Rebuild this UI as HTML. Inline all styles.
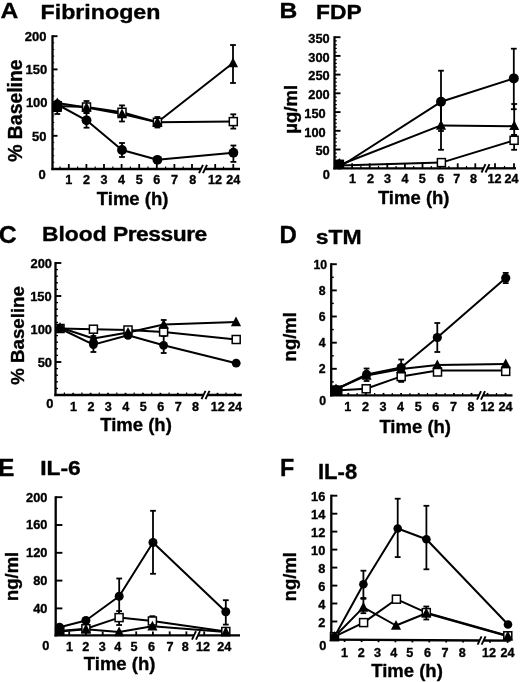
<!DOCTYPE html>
<html lang="en"><head><meta charset="utf-8"><title>Figure</title>
<style>
html,body{margin:0;padding:0;background:#fff;}
body{width:520px;height:682px;overflow:hidden;font-family:"Liberation Sans", Arial, Helvetica, sans-serif;}
svg{display:block;filter:blur(0.35px);}
svg text{stroke:#000;stroke-width:.35px;stroke-linejoin:round;}
</style></head><body>
<svg width="520" height="682" viewBox="0 0 520 682" font-family='"Liberation Sans", Arial, Helvetica, sans-serif' font-weight="bold" fill="#000">
<rect width="520" height="682" fill="#fff"/>
<g id="panel-A">
<text transform="translate(0.5 17.5) scale(1.1 1)" font-size="22.4" text-anchor="start">A</text>
<text transform="translate(40.5 18.8) scale(1.15 1)" font-size="20.2" text-anchor="start">Fibrinogen</text>
<line x1="52.5" y1="35.2" x2="52.5" y2="170.1" stroke="#000" stroke-width="2.3" stroke-linecap="butt"/>
<line x1="51.4" y1="169.0" x2="201.0" y2="169.0" stroke="#000" stroke-width="2.3" stroke-linecap="butt"/>
<line x1="205.0" y1="169.0" x2="240.0" y2="169.0" stroke="#000" stroke-width="2.3" stroke-linecap="butt"/>
<line x1="199.0" y1="173.2" x2="203.0" y2="164.8" stroke="#000" stroke-width="1.9" stroke-linecap="butt"/>
<line x1="203.0" y1="173.2" x2="207.0" y2="164.8" stroke="#000" stroke-width="1.9" stroke-linecap="butt"/>
<text x="42.0" y="178.5" font-size="13" text-anchor="middle">0</text>
<line x1="52.5" y1="135.8" x2="57.5" y2="135.8" stroke="#000" stroke-width="1.9" stroke-linecap="butt"/>
<text x="46.5" y="140.6" font-size="13" text-anchor="end">50</text>
<line x1="52.5" y1="102.6" x2="57.5" y2="102.6" stroke="#000" stroke-width="1.9" stroke-linecap="butt"/>
<text x="47.6" y="107.4" font-size="13" text-anchor="end">100</text>
<line x1="52.5" y1="69.4" x2="57.5" y2="69.4" stroke="#000" stroke-width="1.9" stroke-linecap="butt"/>
<text x="47.2" y="74.2" font-size="13" text-anchor="end">150</text>
<line x1="52.5" y1="36.2" x2="57.5" y2="36.2" stroke="#000" stroke-width="1.9" stroke-linecap="butt"/>
<text x="46.5" y="41.0" font-size="13" text-anchor="end">200</text>
<line x1="52.5" y1="162.4" x2="54.3" y2="162.4" stroke="#000" stroke-width="0.9" stroke-linecap="butt"/>
<line x1="52.5" y1="155.7" x2="54.3" y2="155.7" stroke="#000" stroke-width="0.9" stroke-linecap="butt"/>
<line x1="52.5" y1="149.1" x2="54.3" y2="149.1" stroke="#000" stroke-width="0.9" stroke-linecap="butt"/>
<line x1="52.5" y1="142.4" x2="54.3" y2="142.4" stroke="#000" stroke-width="0.9" stroke-linecap="butt"/>
<line x1="52.5" y1="129.2" x2="54.3" y2="129.2" stroke="#000" stroke-width="0.9" stroke-linecap="butt"/>
<line x1="52.5" y1="122.5" x2="54.3" y2="122.5" stroke="#000" stroke-width="0.9" stroke-linecap="butt"/>
<line x1="52.5" y1="115.9" x2="54.3" y2="115.9" stroke="#000" stroke-width="0.9" stroke-linecap="butt"/>
<line x1="52.5" y1="109.2" x2="54.3" y2="109.2" stroke="#000" stroke-width="0.9" stroke-linecap="butt"/>
<line x1="52.5" y1="96.0" x2="54.3" y2="96.0" stroke="#000" stroke-width="0.9" stroke-linecap="butt"/>
<line x1="52.5" y1="89.3" x2="54.3" y2="89.3" stroke="#000" stroke-width="0.9" stroke-linecap="butt"/>
<line x1="52.5" y1="82.7" x2="54.3" y2="82.7" stroke="#000" stroke-width="0.9" stroke-linecap="butt"/>
<line x1="52.5" y1="76.0" x2="54.3" y2="76.0" stroke="#000" stroke-width="0.9" stroke-linecap="butt"/>
<line x1="52.5" y1="62.8" x2="54.3" y2="62.8" stroke="#000" stroke-width="0.9" stroke-linecap="butt"/>
<line x1="52.5" y1="56.1" x2="54.3" y2="56.1" stroke="#000" stroke-width="0.9" stroke-linecap="butt"/>
<line x1="52.5" y1="49.5" x2="54.3" y2="49.5" stroke="#000" stroke-width="0.9" stroke-linecap="butt"/>
<line x1="52.5" y1="42.8" x2="54.3" y2="42.8" stroke="#000" stroke-width="0.9" stroke-linecap="butt"/>
<line x1="68.8" y1="169.0" x2="68.8" y2="164.0" stroke="#000" stroke-width="1.8" stroke-linecap="butt"/>
<text x="68.8" y="183.5" font-size="12.6" text-anchor="middle">1</text>
<line x1="86.4" y1="169.0" x2="86.4" y2="164.0" stroke="#000" stroke-width="1.8" stroke-linecap="butt"/>
<text x="86.4" y="183.5" font-size="12.6" text-anchor="middle">2</text>
<line x1="104.0" y1="169.0" x2="104.0" y2="164.0" stroke="#000" stroke-width="1.8" stroke-linecap="butt"/>
<text x="104.0" y="183.5" font-size="12.6" text-anchor="middle">3</text>
<line x1="121.6" y1="169.0" x2="121.6" y2="164.0" stroke="#000" stroke-width="1.8" stroke-linecap="butt"/>
<text x="121.6" y="183.5" font-size="12.6" text-anchor="middle">4</text>
<line x1="139.2" y1="169.0" x2="139.2" y2="164.0" stroke="#000" stroke-width="1.8" stroke-linecap="butt"/>
<text x="139.2" y="183.5" font-size="12.6" text-anchor="middle">5</text>
<line x1="156.8" y1="169.0" x2="156.8" y2="164.0" stroke="#000" stroke-width="1.8" stroke-linecap="butt"/>
<text x="156.8" y="183.5" font-size="12.6" text-anchor="middle">6</text>
<line x1="174.4" y1="169.0" x2="174.4" y2="164.0" stroke="#000" stroke-width="1.8" stroke-linecap="butt"/>
<text x="174.4" y="183.5" font-size="12.6" text-anchor="middle">7</text>
<line x1="192.0" y1="169.0" x2="192.0" y2="164.0" stroke="#000" stroke-width="1.8" stroke-linecap="butt"/>
<text x="192.8" y="183.5" font-size="12.6" text-anchor="middle">8</text>
<line x1="215.2" y1="169.0" x2="215.2" y2="164.0" stroke="#000" stroke-width="1.8" stroke-linecap="butt"/>
<text x="214.9" y="183.5" font-size="12.6" text-anchor="middle">12</text>
<line x1="233.3" y1="169.0" x2="233.3" y2="164.0" stroke="#000" stroke-width="1.8" stroke-linecap="butt"/>
<text x="233.3" y="183.5" font-size="12.6" text-anchor="middle">24</text>
<line x1="60.0" y1="169.0" x2="60.0" y2="166.6" stroke="#000" stroke-width="1.2" stroke-linecap="butt"/>
<line x1="77.6" y1="169.0" x2="77.6" y2="166.6" stroke="#000" stroke-width="1.2" stroke-linecap="butt"/>
<line x1="95.2" y1="169.0" x2="95.2" y2="166.6" stroke="#000" stroke-width="1.2" stroke-linecap="butt"/>
<line x1="112.8" y1="169.0" x2="112.8" y2="166.6" stroke="#000" stroke-width="1.2" stroke-linecap="butt"/>
<line x1="130.4" y1="169.0" x2="130.4" y2="166.6" stroke="#000" stroke-width="1.2" stroke-linecap="butt"/>
<line x1="148.0" y1="169.0" x2="148.0" y2="166.6" stroke="#000" stroke-width="1.2" stroke-linecap="butt"/>
<line x1="165.6" y1="169.0" x2="165.6" y2="166.6" stroke="#000" stroke-width="1.2" stroke-linecap="butt"/>
<line x1="183.2" y1="169.0" x2="183.2" y2="166.6" stroke="#000" stroke-width="1.2" stroke-linecap="butt"/>
<line x1="223.5" y1="169.0" x2="223.5" y2="166.6" stroke="#000" stroke-width="1.2" stroke-linecap="butt"/>
<text x="21.8" y="110.6" font-size="19.4" text-anchor="middle" transform="rotate(-90 21.8 110.6)">% Baseline</text>
<text x="132.6" y="205.0" font-size="18.5" text-anchor="middle">Time (h)</text>
<polyline points="57.3,104.5 86.5,120.3 122.0,150.0 157.4,159.8 233.4,152.7" fill="none" stroke="#000" stroke-width="2" stroke-linejoin="round"/>
<polyline points="57.3,106.0 86.5,107.0 122.0,112.3 157.4,122.3 233.3,121.6" fill="none" stroke="#000" stroke-width="2" stroke-linejoin="round"/>
<polyline points="57.3,103.0 86.5,107.5 122.0,114.0 157.4,122.3 233.0,63.0" fill="none" stroke="#000" stroke-width="2" stroke-linejoin="round"/>
<line x1="86.5" y1="113.0" x2="86.5" y2="127.7" stroke="#000" stroke-width="1.8" stroke-linecap="butt"/>
<line x1="83.6" y1="113.0" x2="89.4" y2="113.0" stroke="#000" stroke-width="1.8" stroke-linecap="butt"/>
<line x1="83.6" y1="127.7" x2="89.4" y2="127.7" stroke="#000" stroke-width="1.8" stroke-linecap="butt"/>
<line x1="122.0" y1="143.0" x2="122.0" y2="157.0" stroke="#000" stroke-width="1.8" stroke-linecap="butt"/>
<line x1="119.1" y1="143.0" x2="124.9" y2="143.0" stroke="#000" stroke-width="1.8" stroke-linecap="butt"/>
<line x1="119.1" y1="157.0" x2="124.9" y2="157.0" stroke="#000" stroke-width="1.8" stroke-linecap="butt"/>
<line x1="233.4" y1="145.5" x2="233.4" y2="161.9" stroke="#000" stroke-width="1.8" stroke-linecap="butt"/>
<line x1="230.5" y1="145.5" x2="236.3" y2="145.5" stroke="#000" stroke-width="1.8" stroke-linecap="butt"/>
<line x1="230.5" y1="161.9" x2="236.3" y2="161.9" stroke="#000" stroke-width="1.8" stroke-linecap="butt"/>
<line x1="57.3" y1="103.0" x2="57.3" y2="114.0" stroke="#000" stroke-width="1.8" stroke-linecap="butt"/>
<line x1="54.4" y1="103.0" x2="60.2" y2="103.0" stroke="#000" stroke-width="1.8" stroke-linecap="butt"/>
<line x1="54.4" y1="114.0" x2="60.2" y2="114.0" stroke="#000" stroke-width="1.8" stroke-linecap="butt"/>
<line x1="86.5" y1="101.0" x2="86.5" y2="113.0" stroke="#000" stroke-width="1.8" stroke-linecap="butt"/>
<line x1="83.6" y1="101.0" x2="89.4" y2="101.0" stroke="#000" stroke-width="1.8" stroke-linecap="butt"/>
<line x1="83.6" y1="113.0" x2="89.4" y2="113.0" stroke="#000" stroke-width="1.8" stroke-linecap="butt"/>
<line x1="122.0" y1="105.4" x2="122.0" y2="121.5" stroke="#000" stroke-width="1.8" stroke-linecap="butt"/>
<line x1="119.1" y1="105.4" x2="124.9" y2="105.4" stroke="#000" stroke-width="1.8" stroke-linecap="butt"/>
<line x1="119.1" y1="121.5" x2="124.9" y2="121.5" stroke="#000" stroke-width="1.8" stroke-linecap="butt"/>
<line x1="233.3" y1="114.3" x2="233.3" y2="128.6" stroke="#000" stroke-width="1.8" stroke-linecap="butt"/>
<line x1="230.4" y1="114.3" x2="236.2" y2="114.3" stroke="#000" stroke-width="1.8" stroke-linecap="butt"/>
<line x1="230.4" y1="128.6" x2="236.2" y2="128.6" stroke="#000" stroke-width="1.8" stroke-linecap="butt"/>
<line x1="233.0" y1="45.0" x2="233.0" y2="83.0" stroke="#000" stroke-width="1.8" stroke-linecap="butt"/>
<line x1="230.1" y1="45.0" x2="235.9" y2="45.0" stroke="#000" stroke-width="1.8" stroke-linecap="butt"/>
<line x1="230.1" y1="83.0" x2="235.9" y2="83.0" stroke="#000" stroke-width="1.8" stroke-linecap="butt"/>
<line x1="157.4" y1="117.0" x2="157.4" y2="127.5" stroke="#000" stroke-width="1.8" stroke-linecap="butt"/>
<line x1="154.5" y1="117.0" x2="160.3" y2="117.0" stroke="#000" stroke-width="1.8" stroke-linecap="butt"/>
<line x1="154.5" y1="127.5" x2="160.3" y2="127.5" stroke="#000" stroke-width="1.8" stroke-linecap="butt"/>
<rect x="53.3" y="102.0" width="8.0" height="8.0" fill="#fff" stroke="#000" stroke-width="1.5"/>
<rect x="82.5" y="103.0" width="8.0" height="8.0" fill="#fff" stroke="#000" stroke-width="1.5"/>
<rect x="118.0" y="108.3" width="8.0" height="8.0" fill="#fff" stroke="#000" stroke-width="1.5"/>
<rect x="153.4" y="118.3" width="8.0" height="8.0" fill="#fff" stroke="#000" stroke-width="1.5"/>
<rect x="229.3" y="117.6" width="8.0" height="8.0" fill="#fff" stroke="#000" stroke-width="1.5"/>
<circle cx="57.3" cy="104.5" r="4.9" fill="#000"/>
<circle cx="86.5" cy="120.3" r="4.9" fill="#000"/>
<circle cx="122.0" cy="150.0" r="4.9" fill="#000"/>
<circle cx="157.4" cy="159.8" r="4.9" fill="#000"/>
<circle cx="233.4" cy="152.7" r="4.9" fill="#000"/>
<polygon points="57.3,97.4 52.2,107.3 62.3,107.3" fill="#000"/>
<polygon points="86.5,101.9 81.5,111.8 91.5,111.8" fill="#000"/>
<polygon points="122.0,108.4 117.0,118.3 127.0,118.3" fill="#000"/>
<polygon points="157.4,116.7 152.3,126.6 162.5,126.6" fill="#000"/>
<polygon points="233.0,57.4 227.9,67.3 238.1,67.3" fill="#000"/>
<rect x="52.6" y="101" width="9.2" height="11" fill="#000"/>
</g>
<g id="panel-B">
<text transform="translate(279.5 17.8) scale(1.1 1)" font-size="22.4" text-anchor="start">B</text>
<text transform="translate(316.0 18.9) scale(1.13 1)" font-size="20.2" text-anchor="start">FDP</text>
<line x1="334.5" y1="36.2" x2="334.5" y2="169.4" stroke="#000" stroke-width="2.3" stroke-linecap="butt"/>
<line x1="333.4" y1="168.3" x2="483.5" y2="168.3" stroke="#000" stroke-width="2.3" stroke-linecap="butt"/>
<line x1="487.5" y1="168.3" x2="516.0" y2="168.3" stroke="#000" stroke-width="2.3" stroke-linecap="butt"/>
<line x1="481.5" y1="172.5" x2="485.5" y2="164.1" stroke="#000" stroke-width="1.9" stroke-linecap="butt"/>
<line x1="485.5" y1="172.5" x2="489.5" y2="164.1" stroke="#000" stroke-width="1.9" stroke-linecap="butt"/>
<text x="326.3" y="179.4" font-size="12.8" text-anchor="middle">0</text>
<line x1="334.5" y1="149.5" x2="340.5" y2="149.5" stroke="#000" stroke-width="1.9" stroke-linecap="butt"/>
<text x="329.7" y="155.3" font-size="12.8" text-anchor="end">50</text>
<line x1="334.5" y1="130.8" x2="340.5" y2="130.8" stroke="#000" stroke-width="1.9" stroke-linecap="butt"/>
<text x="325.7" y="136.6" font-size="12.8" text-anchor="end">100</text>
<line x1="334.5" y1="112.1" x2="340.5" y2="112.1" stroke="#000" stroke-width="1.9" stroke-linecap="butt"/>
<text x="325.7" y="117.9" font-size="12.8" text-anchor="end">150</text>
<line x1="334.5" y1="93.3" x2="340.5" y2="93.3" stroke="#000" stroke-width="1.9" stroke-linecap="butt"/>
<text x="329.7" y="99.1" font-size="12.8" text-anchor="end">200</text>
<line x1="334.5" y1="74.6" x2="340.5" y2="74.6" stroke="#000" stroke-width="1.9" stroke-linecap="butt"/>
<text x="329.7" y="80.4" font-size="12.8" text-anchor="end">250</text>
<line x1="334.5" y1="55.9" x2="340.5" y2="55.9" stroke="#000" stroke-width="1.9" stroke-linecap="butt"/>
<text x="329.7" y="61.7" font-size="12.8" text-anchor="end">300</text>
<line x1="334.5" y1="37.2" x2="340.5" y2="37.2" stroke="#000" stroke-width="1.9" stroke-linecap="butt"/>
<text x="329.7" y="43.0" font-size="12.8" text-anchor="end">350</text>
<line x1="334.5" y1="164.5" x2="336.8" y2="164.5" stroke="#000" stroke-width="1.2" stroke-linecap="butt"/>
<line x1="334.5" y1="160.7" x2="336.8" y2="160.7" stroke="#000" stroke-width="1.2" stroke-linecap="butt"/>
<line x1="334.5" y1="157.0" x2="336.8" y2="157.0" stroke="#000" stroke-width="1.2" stroke-linecap="butt"/>
<line x1="334.5" y1="153.2" x2="336.8" y2="153.2" stroke="#000" stroke-width="1.2" stroke-linecap="butt"/>
<line x1="334.5" y1="145.7" x2="336.8" y2="145.7" stroke="#000" stroke-width="1.2" stroke-linecap="butt"/>
<line x1="334.5" y1="142.0" x2="336.8" y2="142.0" stroke="#000" stroke-width="1.2" stroke-linecap="butt"/>
<line x1="334.5" y1="138.3" x2="336.8" y2="138.3" stroke="#000" stroke-width="1.2" stroke-linecap="butt"/>
<line x1="334.5" y1="134.5" x2="336.8" y2="134.5" stroke="#000" stroke-width="1.2" stroke-linecap="butt"/>
<line x1="334.5" y1="127.0" x2="336.8" y2="127.0" stroke="#000" stroke-width="1.2" stroke-linecap="butt"/>
<line x1="334.5" y1="123.3" x2="336.8" y2="123.3" stroke="#000" stroke-width="1.2" stroke-linecap="butt"/>
<line x1="334.5" y1="119.5" x2="336.8" y2="119.5" stroke="#000" stroke-width="1.2" stroke-linecap="butt"/>
<line x1="334.5" y1="115.8" x2="336.8" y2="115.8" stroke="#000" stroke-width="1.2" stroke-linecap="butt"/>
<line x1="334.5" y1="108.3" x2="336.8" y2="108.3" stroke="#000" stroke-width="1.2" stroke-linecap="butt"/>
<line x1="334.5" y1="104.6" x2="336.8" y2="104.6" stroke="#000" stroke-width="1.2" stroke-linecap="butt"/>
<line x1="334.5" y1="100.8" x2="336.8" y2="100.8" stroke="#000" stroke-width="1.2" stroke-linecap="butt"/>
<line x1="334.5" y1="97.1" x2="336.8" y2="97.1" stroke="#000" stroke-width="1.2" stroke-linecap="butt"/>
<line x1="334.5" y1="89.6" x2="336.8" y2="89.6" stroke="#000" stroke-width="1.2" stroke-linecap="butt"/>
<line x1="334.5" y1="85.9" x2="336.8" y2="85.9" stroke="#000" stroke-width="1.2" stroke-linecap="butt"/>
<line x1="334.5" y1="82.1" x2="336.8" y2="82.1" stroke="#000" stroke-width="1.2" stroke-linecap="butt"/>
<line x1="334.5" y1="78.4" x2="336.8" y2="78.4" stroke="#000" stroke-width="1.2" stroke-linecap="butt"/>
<line x1="334.5" y1="70.9" x2="336.8" y2="70.9" stroke="#000" stroke-width="1.2" stroke-linecap="butt"/>
<line x1="334.5" y1="67.1" x2="336.8" y2="67.1" stroke="#000" stroke-width="1.2" stroke-linecap="butt"/>
<line x1="334.5" y1="63.4" x2="336.8" y2="63.4" stroke="#000" stroke-width="1.2" stroke-linecap="butt"/>
<line x1="334.5" y1="59.7" x2="336.8" y2="59.7" stroke="#000" stroke-width="1.2" stroke-linecap="butt"/>
<line x1="334.5" y1="52.2" x2="336.8" y2="52.2" stroke="#000" stroke-width="1.2" stroke-linecap="butt"/>
<line x1="334.5" y1="48.4" x2="336.8" y2="48.4" stroke="#000" stroke-width="1.2" stroke-linecap="butt"/>
<line x1="334.5" y1="44.7" x2="336.8" y2="44.7" stroke="#000" stroke-width="1.2" stroke-linecap="butt"/>
<line x1="334.5" y1="40.9" x2="336.8" y2="40.9" stroke="#000" stroke-width="1.2" stroke-linecap="butt"/>
<line x1="352.1" y1="168.3" x2="352.1" y2="163.3" stroke="#000" stroke-width="1.8" stroke-linecap="butt"/>
<text x="352.5" y="183.4" font-size="12.6" text-anchor="middle">1</text>
<line x1="369.7" y1="168.3" x2="369.7" y2="163.3" stroke="#000" stroke-width="1.8" stroke-linecap="butt"/>
<text x="370.4" y="183.4" font-size="12.6" text-anchor="middle">2</text>
<line x1="387.3" y1="168.3" x2="387.3" y2="163.3" stroke="#000" stroke-width="1.8" stroke-linecap="butt"/>
<text x="387.5" y="183.4" font-size="12.6" text-anchor="middle">3</text>
<line x1="404.9" y1="168.3" x2="404.9" y2="163.3" stroke="#000" stroke-width="1.8" stroke-linecap="butt"/>
<text x="404.9" y="183.4" font-size="12.6" text-anchor="middle">4</text>
<line x1="422.5" y1="168.3" x2="422.5" y2="163.3" stroke="#000" stroke-width="1.8" stroke-linecap="butt"/>
<text x="422.3" y="183.4" font-size="12.6" text-anchor="middle">5</text>
<line x1="440.1" y1="168.3" x2="440.1" y2="163.3" stroke="#000" stroke-width="1.8" stroke-linecap="butt"/>
<text x="440.7" y="183.4" font-size="12.6" text-anchor="middle">6</text>
<line x1="457.7" y1="168.3" x2="457.7" y2="163.3" stroke="#000" stroke-width="1.8" stroke-linecap="butt"/>
<text x="456.8" y="183.4" font-size="12.6" text-anchor="middle">7</text>
<line x1="475.3" y1="168.3" x2="475.3" y2="163.3" stroke="#000" stroke-width="1.8" stroke-linecap="butt"/>
<text x="473.6" y="183.4" font-size="12.6" text-anchor="middle">8</text>
<line x1="495.0" y1="168.3" x2="495.0" y2="163.3" stroke="#000" stroke-width="1.8" stroke-linecap="butt"/>
<text x="494.6" y="183.4" font-size="12.6" text-anchor="middle">12</text>
<line x1="514.0" y1="168.3" x2="514.0" y2="163.3" stroke="#000" stroke-width="1.8" stroke-linecap="butt"/>
<text x="511.5" y="183.4" font-size="12.6" text-anchor="middle">24</text>
<line x1="343.3" y1="168.3" x2="343.3" y2="165.9" stroke="#000" stroke-width="1.2" stroke-linecap="butt"/>
<line x1="360.9" y1="168.3" x2="360.9" y2="165.9" stroke="#000" stroke-width="1.2" stroke-linecap="butt"/>
<line x1="378.5" y1="168.3" x2="378.5" y2="165.9" stroke="#000" stroke-width="1.2" stroke-linecap="butt"/>
<line x1="396.1" y1="168.3" x2="396.1" y2="165.9" stroke="#000" stroke-width="1.2" stroke-linecap="butt"/>
<line x1="413.7" y1="168.3" x2="413.7" y2="165.9" stroke="#000" stroke-width="1.2" stroke-linecap="butt"/>
<line x1="431.3" y1="168.3" x2="431.3" y2="165.9" stroke="#000" stroke-width="1.2" stroke-linecap="butt"/>
<line x1="448.9" y1="168.3" x2="448.9" y2="165.9" stroke="#000" stroke-width="1.2" stroke-linecap="butt"/>
<line x1="466.5" y1="168.3" x2="466.5" y2="165.9" stroke="#000" stroke-width="1.2" stroke-linecap="butt"/>
<line x1="504.5" y1="168.3" x2="504.5" y2="165.9" stroke="#000" stroke-width="1.2" stroke-linecap="butt"/>
<text x="297.5" y="109.3" font-size="18.6" text-anchor="middle" transform="rotate(-90 297.5 109.3)">µg/ml</text>
<text x="413.7" y="203.7" font-size="18.5" text-anchor="middle">Time (h)</text>
<polyline points="339.5,167.0 441.0,101.8 513.8,78.4" fill="none" stroke="#000" stroke-width="2" stroke-linejoin="round"/>
<polyline points="339.5,165.0 441.0,125.4 514.2,126.2" fill="none" stroke="#000" stroke-width="2" stroke-linejoin="round"/>
<polyline points="339.5,165.6 441.4,162.6 514.1,140.3" fill="none" stroke="#000" stroke-width="2" stroke-linejoin="round"/>
<line x1="441.0" y1="70.7" x2="441.0" y2="131.0" stroke="#000" stroke-width="1.8" stroke-linecap="butt"/>
<line x1="438.1" y1="70.7" x2="443.9" y2="70.7" stroke="#000" stroke-width="1.8" stroke-linecap="butt"/>
<line x1="438.1" y1="131.0" x2="443.9" y2="131.0" stroke="#000" stroke-width="1.8" stroke-linecap="butt"/>
<line x1="513.8" y1="48.7" x2="513.8" y2="109.2" stroke="#000" stroke-width="1.8" stroke-linecap="butt"/>
<line x1="510.9" y1="48.7" x2="516.7" y2="48.7" stroke="#000" stroke-width="1.8" stroke-linecap="butt"/>
<line x1="510.9" y1="109.2" x2="516.7" y2="109.2" stroke="#000" stroke-width="1.8" stroke-linecap="butt"/>
<line x1="441.0" y1="103.0" x2="441.0" y2="149.8" stroke="#000" stroke-width="1.8" stroke-linecap="butt"/>
<line x1="438.1" y1="103.0" x2="443.9" y2="103.0" stroke="#000" stroke-width="1.8" stroke-linecap="butt"/>
<line x1="438.1" y1="149.8" x2="443.9" y2="149.8" stroke="#000" stroke-width="1.8" stroke-linecap="butt"/>
<line x1="514.2" y1="104.0" x2="514.2" y2="135.0" stroke="#000" stroke-width="1.8" stroke-linecap="butt"/>
<line x1="511.3" y1="104.0" x2="517.1" y2="104.0" stroke="#000" stroke-width="1.8" stroke-linecap="butt"/>
<line x1="511.3" y1="135.0" x2="517.1" y2="135.0" stroke="#000" stroke-width="1.8" stroke-linecap="butt"/>
<line x1="514.1" y1="135.0" x2="514.1" y2="149.8" stroke="#000" stroke-width="1.8" stroke-linecap="butt"/>
<line x1="511.2" y1="135.0" x2="517.0" y2="135.0" stroke="#000" stroke-width="1.8" stroke-linecap="butt"/>
<line x1="511.2" y1="149.8" x2="517.0" y2="149.8" stroke="#000" stroke-width="1.8" stroke-linecap="butt"/>
<rect x="437.4" y="158.6" width="8.0" height="8.0" fill="#fff" stroke="#000" stroke-width="1.5"/>
<rect x="510.1" y="136.3" width="8.0" height="8.0" fill="#fff" stroke="#000" stroke-width="1.5"/>
<circle cx="339.3" cy="164.6" r="5.0" fill="#000"/>
<circle cx="441.0" cy="101.8" r="5.0" fill="#000"/>
<circle cx="513.8" cy="78.4" r="5.0" fill="#000"/>
<polygon points="339.3,157.9 334.2,167.8 344.4,167.8" fill="#000"/>
<polygon points="441.0,119.8 435.9,129.7 446.1,129.7" fill="#000"/>
<polygon points="514.2,120.2 509.2,130.1 519.2,130.1" fill="#000"/>
<rect x="333.9" y="159.6" width="10.2" height="9" fill="#000"/>
</g>
<g id="panel-C">
<text transform="translate(-1.3 242.7) scale(1.0 1)" font-size="24.8" text-anchor="start">C</text>
<text transform="translate(42.0 240.6) scale(1.087 1)" font-size="21" text-anchor="start">Blood <tspan letter-spacing="-0.45">Pressure</tspan></text>
<line x1="55.5" y1="262.0" x2="55.5" y2="396.1" stroke="#000" stroke-width="2.3" stroke-linecap="butt"/>
<line x1="54.4" y1="395.0" x2="203.5" y2="395.0" stroke="#000" stroke-width="2.3" stroke-linecap="butt"/>
<line x1="207.5" y1="395.0" x2="241.8" y2="395.0" stroke="#000" stroke-width="2.3" stroke-linecap="butt"/>
<line x1="201.5" y1="399.2" x2="205.5" y2="390.8" stroke="#000" stroke-width="1.9" stroke-linecap="butt"/>
<line x1="205.5" y1="399.2" x2="209.5" y2="390.8" stroke="#000" stroke-width="1.9" stroke-linecap="butt"/>
<text x="49.9" y="408.0" font-size="12.9" text-anchor="middle">0</text>
<line x1="55.5" y1="362.0" x2="61.3" y2="362.0" stroke="#000" stroke-width="1.9" stroke-linecap="butt"/>
<text x="52.0" y="366.8" font-size="12.9" text-anchor="end">50</text>
<line x1="55.5" y1="329.0" x2="61.3" y2="329.0" stroke="#000" stroke-width="1.9" stroke-linecap="butt"/>
<text x="52.0" y="333.8" font-size="12.9" text-anchor="end">100</text>
<line x1="55.5" y1="296.0" x2="61.3" y2="296.0" stroke="#000" stroke-width="1.9" stroke-linecap="butt"/>
<text x="51.7" y="300.8" font-size="12.9" text-anchor="end">150</text>
<line x1="55.5" y1="263.0" x2="61.3" y2="263.0" stroke="#000" stroke-width="1.9" stroke-linecap="butt"/>
<text x="52.0" y="267.8" font-size="12.9" text-anchor="end">200</text>
<line x1="55.5" y1="388.4" x2="58.0" y2="388.4" stroke="#000" stroke-width="1.3" stroke-linecap="butt"/>
<line x1="55.5" y1="381.8" x2="58.0" y2="381.8" stroke="#000" stroke-width="1.3" stroke-linecap="butt"/>
<line x1="55.5" y1="375.2" x2="58.0" y2="375.2" stroke="#000" stroke-width="1.3" stroke-linecap="butt"/>
<line x1="55.5" y1="368.6" x2="58.0" y2="368.6" stroke="#000" stroke-width="1.3" stroke-linecap="butt"/>
<line x1="55.5" y1="355.4" x2="58.0" y2="355.4" stroke="#000" stroke-width="1.3" stroke-linecap="butt"/>
<line x1="55.5" y1="348.8" x2="58.0" y2="348.8" stroke="#000" stroke-width="1.3" stroke-linecap="butt"/>
<line x1="55.5" y1="342.2" x2="58.0" y2="342.2" stroke="#000" stroke-width="1.3" stroke-linecap="butt"/>
<line x1="55.5" y1="335.6" x2="58.0" y2="335.6" stroke="#000" stroke-width="1.3" stroke-linecap="butt"/>
<line x1="55.5" y1="322.4" x2="58.0" y2="322.4" stroke="#000" stroke-width="1.3" stroke-linecap="butt"/>
<line x1="55.5" y1="315.8" x2="58.0" y2="315.8" stroke="#000" stroke-width="1.3" stroke-linecap="butt"/>
<line x1="55.5" y1="309.2" x2="58.0" y2="309.2" stroke="#000" stroke-width="1.3" stroke-linecap="butt"/>
<line x1="55.5" y1="302.6" x2="58.0" y2="302.6" stroke="#000" stroke-width="1.3" stroke-linecap="butt"/>
<line x1="55.5" y1="289.4" x2="58.0" y2="289.4" stroke="#000" stroke-width="1.3" stroke-linecap="butt"/>
<line x1="55.5" y1="282.8" x2="58.0" y2="282.8" stroke="#000" stroke-width="1.3" stroke-linecap="butt"/>
<line x1="55.5" y1="276.2" x2="58.0" y2="276.2" stroke="#000" stroke-width="1.3" stroke-linecap="butt"/>
<line x1="55.5" y1="269.6" x2="58.0" y2="269.6" stroke="#000" stroke-width="1.3" stroke-linecap="butt"/>
<line x1="73.2" y1="395.0" x2="73.2" y2="392.8" stroke="#000" stroke-width="1.8" stroke-linecap="butt"/>
<text x="73.5" y="410.5" font-size="12.6" text-anchor="middle">1</text>
<line x1="90.6" y1="395.0" x2="90.6" y2="392.8" stroke="#000" stroke-width="1.8" stroke-linecap="butt"/>
<text x="90.9" y="410.5" font-size="12.6" text-anchor="middle">2</text>
<line x1="108.0" y1="395.0" x2="108.0" y2="392.8" stroke="#000" stroke-width="1.8" stroke-linecap="butt"/>
<text x="108.3" y="410.5" font-size="12.6" text-anchor="middle">3</text>
<line x1="125.5" y1="395.0" x2="125.5" y2="392.8" stroke="#000" stroke-width="1.8" stroke-linecap="butt"/>
<text x="125.8" y="410.5" font-size="12.6" text-anchor="middle">4</text>
<line x1="142.9" y1="395.0" x2="142.9" y2="392.8" stroke="#000" stroke-width="1.8" stroke-linecap="butt"/>
<text x="143.2" y="410.5" font-size="12.6" text-anchor="middle">5</text>
<line x1="160.4" y1="395.0" x2="160.4" y2="392.8" stroke="#000" stroke-width="1.8" stroke-linecap="butt"/>
<text x="160.7" y="410.5" font-size="12.6" text-anchor="middle">6</text>
<line x1="177.8" y1="395.0" x2="177.8" y2="392.8" stroke="#000" stroke-width="1.8" stroke-linecap="butt"/>
<text x="178.2" y="410.5" font-size="12.6" text-anchor="middle">7</text>
<line x1="195.3" y1="395.0" x2="195.3" y2="392.8" stroke="#000" stroke-width="1.8" stroke-linecap="butt"/>
<text x="195.6" y="410.5" font-size="12.6" text-anchor="middle">8</text>
<line x1="217.5" y1="395.0" x2="217.5" y2="392.8" stroke="#000" stroke-width="1.8" stroke-linecap="butt"/>
<text x="217.7" y="410.5" font-size="12.6" text-anchor="middle">12</text>
<line x1="235.0" y1="395.0" x2="235.0" y2="392.8" stroke="#000" stroke-width="1.8" stroke-linecap="butt"/>
<text x="235.0" y="410.5" font-size="12.6" text-anchor="middle">24</text>
<line x1="64.4" y1="395.0" x2="64.4" y2="392.6" stroke="#000" stroke-width="1.2" stroke-linecap="butt"/>
<line x1="81.9" y1="395.0" x2="81.9" y2="392.6" stroke="#000" stroke-width="1.2" stroke-linecap="butt"/>
<line x1="99.3" y1="395.0" x2="99.3" y2="392.6" stroke="#000" stroke-width="1.2" stroke-linecap="butt"/>
<line x1="116.8" y1="395.0" x2="116.8" y2="392.6" stroke="#000" stroke-width="1.2" stroke-linecap="butt"/>
<line x1="134.2" y1="395.0" x2="134.2" y2="392.6" stroke="#000" stroke-width="1.2" stroke-linecap="butt"/>
<line x1="151.7" y1="395.0" x2="151.7" y2="392.6" stroke="#000" stroke-width="1.2" stroke-linecap="butt"/>
<line x1="169.1" y1="395.0" x2="169.1" y2="392.6" stroke="#000" stroke-width="1.2" stroke-linecap="butt"/>
<line x1="186.6" y1="395.0" x2="186.6" y2="392.6" stroke="#000" stroke-width="1.2" stroke-linecap="butt"/>
<line x1="226.0" y1="395.0" x2="226.0" y2="392.6" stroke="#000" stroke-width="1.2" stroke-linecap="butt"/>
<text x="24.5" y="335.4" font-size="18.7" text-anchor="middle" transform="rotate(-90 24.5 335.4)">% Baseline</text>
<text x="136.0" y="430.8" font-size="18.5" text-anchor="middle">Time (h)</text>
<polyline points="60.0,328.5 93.4,344.6 128.0,335.3 163.6,345.3 236.2,363.2" fill="none" stroke="#000" stroke-width="2" stroke-linejoin="round"/>
<polyline points="60.0,328.5 93.4,329.2 128.0,330.0 163.6,331.9 236.2,339.5" fill="none" stroke="#000" stroke-width="2" stroke-linejoin="round"/>
<polyline points="60.0,327.5 93.4,338.5 128.0,332.5 163.7,324.5 236.0,322.0" fill="none" stroke="#000" stroke-width="2" stroke-linejoin="round"/>
<line x1="93.4" y1="336.0" x2="93.4" y2="352.0" stroke="#000" stroke-width="1.8" stroke-linecap="butt"/>
<line x1="90.5" y1="336.0" x2="96.3" y2="336.0" stroke="#000" stroke-width="1.8" stroke-linecap="butt"/>
<line x1="90.5" y1="352.0" x2="96.3" y2="352.0" stroke="#000" stroke-width="1.8" stroke-linecap="butt"/>
<line x1="163.7" y1="336.0" x2="163.7" y2="353.0" stroke="#000" stroke-width="1.8" stroke-linecap="butt"/>
<line x1="160.8" y1="336.0" x2="166.6" y2="336.0" stroke="#000" stroke-width="1.8" stroke-linecap="butt"/>
<line x1="160.8" y1="353.0" x2="166.6" y2="353.0" stroke="#000" stroke-width="1.8" stroke-linecap="butt"/>
<line x1="163.7" y1="320.0" x2="163.7" y2="329.0" stroke="#000" stroke-width="1.8" stroke-linecap="butt"/>
<line x1="160.8" y1="320.0" x2="166.6" y2="320.0" stroke="#000" stroke-width="1.8" stroke-linecap="butt"/>
<line x1="160.8" y1="329.0" x2="166.6" y2="329.0" stroke="#000" stroke-width="1.8" stroke-linecap="butt"/>
<rect x="56.0" y="324.5" width="8.0" height="8.0" fill="#fff" stroke="#000" stroke-width="1.5"/>
<rect x="89.4" y="325.2" width="8.0" height="8.0" fill="#fff" stroke="#000" stroke-width="1.5"/>
<rect x="124.0" y="326.0" width="8.0" height="8.0" fill="#fff" stroke="#000" stroke-width="1.5"/>
<rect x="159.6" y="327.9" width="8.0" height="8.0" fill="#fff" stroke="#000" stroke-width="1.5"/>
<rect x="232.2" y="335.5" width="8.0" height="8.0" fill="#fff" stroke="#000" stroke-width="1.5"/>
<circle cx="60.0" cy="328.5" r="4.4" fill="#000"/>
<circle cx="93.4" cy="344.6" r="4.4" fill="#000"/>
<circle cx="128.0" cy="335.3" r="4.4" fill="#000"/>
<circle cx="163.6" cy="345.3" r="4.4" fill="#000"/>
<circle cx="236.2" cy="363.2" r="4.4" fill="#000"/>
<polygon points="60.0,321.9 55.0,331.8 65.0,331.8" fill="#000"/>
<polygon points="93.4,332.9 88.4,342.8 98.5,342.8" fill="#000"/>
<polygon points="128.0,326.9 123.0,336.8 133.1,336.8" fill="#000"/>
<polygon points="163.7,318.9 158.6,328.8 168.8,328.8" fill="#000"/>
<polygon points="236.0,316.4 230.9,326.3 241.1,326.3" fill="#000"/>
</g>
<g id="panel-D">
<text transform="translate(279.4 242.6) scale(1.0 1)" font-size="24" text-anchor="start">D</text>
<text transform="translate(315.7 243.6) scale(1.1 1)" font-size="20.9" text-anchor="start">sTM</text>
<line x1="331.2" y1="263.2" x2="331.2" y2="396.5" stroke="#000" stroke-width="2.3" stroke-linecap="butt"/>
<line x1="330.1" y1="395.4" x2="479.0" y2="395.4" stroke="#000" stroke-width="2.3" stroke-linecap="butt"/>
<line x1="483.0" y1="395.4" x2="512.5" y2="395.4" stroke="#000" stroke-width="2.3" stroke-linecap="butt"/>
<line x1="477.0" y1="399.6" x2="481.0" y2="391.2" stroke="#000" stroke-width="1.9" stroke-linecap="butt"/>
<line x1="481.0" y1="399.6" x2="485.0" y2="391.2" stroke="#000" stroke-width="1.9" stroke-linecap="butt"/>
<text x="322.6" y="405.2" font-size="12.3" text-anchor="middle">0</text>
<line x1="331.2" y1="368.8" x2="336.8" y2="368.8" stroke="#000" stroke-width="1.9" stroke-linecap="butt"/>
<text x="325.7" y="373.3" font-size="12.3" text-anchor="end">2</text>
<line x1="331.2" y1="342.7" x2="336.8" y2="342.7" stroke="#000" stroke-width="1.9" stroke-linecap="butt"/>
<text x="325.7" y="347.2" font-size="12.3" text-anchor="end">4</text>
<line x1="331.2" y1="316.5" x2="336.8" y2="316.5" stroke="#000" stroke-width="1.9" stroke-linecap="butt"/>
<text x="325.7" y="321.0" font-size="12.3" text-anchor="end">6</text>
<line x1="331.2" y1="290.4" x2="336.8" y2="290.4" stroke="#000" stroke-width="1.9" stroke-linecap="butt"/>
<text x="325.7" y="294.9" font-size="12.3" text-anchor="end">8</text>
<line x1="331.2" y1="264.2" x2="336.8" y2="264.2" stroke="#000" stroke-width="1.9" stroke-linecap="butt"/>
<text x="327.2" y="268.7" font-size="12.3" text-anchor="end">10</text>
<line x1="331.2" y1="381.9" x2="333.8" y2="381.9" stroke="#000" stroke-width="1.4" stroke-linecap="butt"/>
<line x1="331.2" y1="355.8" x2="333.8" y2="355.8" stroke="#000" stroke-width="1.4" stroke-linecap="butt"/>
<line x1="331.2" y1="329.6" x2="333.8" y2="329.6" stroke="#000" stroke-width="1.4" stroke-linecap="butt"/>
<line x1="331.2" y1="303.4" x2="333.8" y2="303.4" stroke="#000" stroke-width="1.4" stroke-linecap="butt"/>
<line x1="331.2" y1="277.3" x2="333.8" y2="277.3" stroke="#000" stroke-width="1.4" stroke-linecap="butt"/>
<line x1="348.3" y1="395.4" x2="348.3" y2="392.9" stroke="#000" stroke-width="1.8" stroke-linecap="butt"/>
<text x="347.8" y="410.6" font-size="12.6" text-anchor="middle">1</text>
<line x1="365.9" y1="395.4" x2="365.9" y2="392.9" stroke="#000" stroke-width="1.8" stroke-linecap="butt"/>
<text x="365.4" y="410.6" font-size="12.6" text-anchor="middle">2</text>
<line x1="383.5" y1="395.4" x2="383.5" y2="392.9" stroke="#000" stroke-width="1.8" stroke-linecap="butt"/>
<text x="383.0" y="410.6" font-size="12.6" text-anchor="middle">3</text>
<line x1="401.1" y1="395.4" x2="401.1" y2="392.9" stroke="#000" stroke-width="1.8" stroke-linecap="butt"/>
<text x="400.6" y="410.6" font-size="12.6" text-anchor="middle">4</text>
<line x1="418.7" y1="395.4" x2="418.7" y2="392.9" stroke="#000" stroke-width="1.8" stroke-linecap="butt"/>
<text x="418.2" y="410.6" font-size="12.6" text-anchor="middle">5</text>
<line x1="436.3" y1="395.4" x2="436.3" y2="392.9" stroke="#000" stroke-width="1.8" stroke-linecap="butt"/>
<text x="435.8" y="410.6" font-size="12.6" text-anchor="middle">6</text>
<line x1="453.9" y1="395.4" x2="453.9" y2="392.9" stroke="#000" stroke-width="1.8" stroke-linecap="butt"/>
<text x="453.4" y="410.6" font-size="12.6" text-anchor="middle">7</text>
<line x1="471.5" y1="395.4" x2="471.5" y2="392.9" stroke="#000" stroke-width="1.8" stroke-linecap="butt"/>
<text x="471.0" y="410.6" font-size="12.6" text-anchor="middle">8</text>
<line x1="487.5" y1="395.4" x2="487.5" y2="392.9" stroke="#000" stroke-width="1.8" stroke-linecap="butt"/>
<text x="487.5" y="410.6" font-size="12.6" text-anchor="middle">12</text>
<line x1="505.5" y1="395.4" x2="505.5" y2="392.9" stroke="#000" stroke-width="1.8" stroke-linecap="butt"/>
<text x="505.5" y="410.6" font-size="12.6" text-anchor="middle">24</text>
<line x1="339.5" y1="395.4" x2="339.5" y2="393.0" stroke="#000" stroke-width="1.2" stroke-linecap="butt"/>
<line x1="357.1" y1="395.4" x2="357.1" y2="393.0" stroke="#000" stroke-width="1.2" stroke-linecap="butt"/>
<line x1="374.7" y1="395.4" x2="374.7" y2="393.0" stroke="#000" stroke-width="1.2" stroke-linecap="butt"/>
<line x1="392.3" y1="395.4" x2="392.3" y2="393.0" stroke="#000" stroke-width="1.2" stroke-linecap="butt"/>
<line x1="409.9" y1="395.4" x2="409.9" y2="393.0" stroke="#000" stroke-width="1.2" stroke-linecap="butt"/>
<line x1="427.5" y1="395.4" x2="427.5" y2="393.0" stroke="#000" stroke-width="1.2" stroke-linecap="butt"/>
<line x1="445.1" y1="395.4" x2="445.1" y2="393.0" stroke="#000" stroke-width="1.2" stroke-linecap="butt"/>
<line x1="462.7" y1="395.4" x2="462.7" y2="393.0" stroke="#000" stroke-width="1.2" stroke-linecap="butt"/>
<line x1="496.5" y1="395.4" x2="496.5" y2="393.0" stroke="#000" stroke-width="1.2" stroke-linecap="butt"/>
<text x="296.1" y="336.7" font-size="18.5" text-anchor="middle" transform="rotate(-90 296.1 336.7)">ng/ml</text>
<text x="415.2" y="433.3" font-size="18.5" text-anchor="middle">Time (h)</text>
<polyline points="336.0,389.5 366.6,374.4 401.2,367.5 437.3,337.5 505.7,278.0" fill="none" stroke="#000" stroke-width="2" stroke-linejoin="round"/>
<polyline points="336.0,389.0 366.6,375.5 401.2,369.0 437.3,365.0 505.7,364.0" fill="none" stroke="#000" stroke-width="2" stroke-linejoin="round"/>
<polyline points="336.0,390.5 366.0,388.7 401.2,376.4 437.3,370.5 505.7,370.5" fill="none" stroke="#000" stroke-width="2" stroke-linejoin="round"/>
<line x1="366.6" y1="368.5" x2="366.6" y2="381.0" stroke="#000" stroke-width="1.8" stroke-linecap="butt"/>
<line x1="363.7" y1="368.5" x2="369.5" y2="368.5" stroke="#000" stroke-width="1.8" stroke-linecap="butt"/>
<line x1="363.7" y1="381.0" x2="369.5" y2="381.0" stroke="#000" stroke-width="1.8" stroke-linecap="butt"/>
<line x1="401.2" y1="359.5" x2="401.2" y2="375.0" stroke="#000" stroke-width="1.8" stroke-linecap="butt"/>
<line x1="398.3" y1="359.5" x2="404.1" y2="359.5" stroke="#000" stroke-width="1.8" stroke-linecap="butt"/>
<line x1="398.3" y1="375.0" x2="404.1" y2="375.0" stroke="#000" stroke-width="1.8" stroke-linecap="butt"/>
<line x1="437.3" y1="323.0" x2="437.3" y2="352.0" stroke="#000" stroke-width="1.8" stroke-linecap="butt"/>
<line x1="434.4" y1="323.0" x2="440.2" y2="323.0" stroke="#000" stroke-width="1.8" stroke-linecap="butt"/>
<line x1="434.4" y1="352.0" x2="440.2" y2="352.0" stroke="#000" stroke-width="1.8" stroke-linecap="butt"/>
<line x1="505.7" y1="272.9" x2="505.7" y2="283.1" stroke="#000" stroke-width="1.8" stroke-linecap="butt"/>
<line x1="502.8" y1="272.9" x2="508.6" y2="272.9" stroke="#000" stroke-width="1.8" stroke-linecap="butt"/>
<line x1="502.8" y1="283.1" x2="508.6" y2="283.1" stroke="#000" stroke-width="1.8" stroke-linecap="butt"/>
<line x1="401.2" y1="371.0" x2="401.2" y2="381.9" stroke="#000" stroke-width="1.8" stroke-linecap="butt"/>
<line x1="398.3" y1="371.0" x2="404.1" y2="371.0" stroke="#000" stroke-width="1.8" stroke-linecap="butt"/>
<line x1="398.3" y1="381.9" x2="404.1" y2="381.9" stroke="#000" stroke-width="1.8" stroke-linecap="butt"/>
<rect x="362.2" y="384.8" width="8.0" height="8.0" fill="#fff" stroke="#000" stroke-width="1.5"/>
<rect x="397.2" y="372.6" width="8.0" height="8.0" fill="#fff" stroke="#000" stroke-width="1.5"/>
<rect x="433.5" y="368.0" width="8.0" height="8.0" fill="#fff" stroke="#000" stroke-width="1.5"/>
<rect x="501.7" y="367.4" width="8.0" height="8.0" fill="#fff" stroke="#000" stroke-width="1.5"/>
<circle cx="336.0" cy="389.5" r="4.6" fill="#000"/>
<circle cx="366.6" cy="374.4" r="4.6" fill="#000"/>
<circle cx="401.2" cy="367.5" r="4.6" fill="#000"/>
<circle cx="437.3" cy="337.5" r="4.6" fill="#000"/>
<circle cx="505.7" cy="278.0" r="4.6" fill="#000"/>
<polygon points="336.0,383.4 330.9,393.3 341.1,393.3" fill="#000"/>
<polygon points="366.6,369.9 361.6,379.8 371.7,379.8" fill="#000"/>
<polygon points="401.2,363.4 396.1,373.3 406.2,373.3" fill="#000"/>
<polygon points="437.3,359.4 432.2,369.3 442.4,369.3" fill="#000"/>
<polygon points="505.7,358.4 500.6,368.3 510.8,368.3" fill="#000"/>
<rect x="330.2" y="385.4" width="12.3" height="10" fill="#000"/>
</g>
<g id="panel-E">
<text transform="translate(-2.0 476.0) scale(1.05 1)" font-size="23.4" text-anchor="start">E</text>
<text transform="translate(40.2 474.6) scale(1.13 1)" font-size="20.2" text-anchor="start">IL-6</text>
<line x1="55.7" y1="496.2" x2="55.7" y2="636.5" stroke="#000" stroke-width="2.3" stroke-linecap="butt"/>
<line x1="54.6" y1="635.4" x2="194.0" y2="635.4" stroke="#000" stroke-width="2.3" stroke-linecap="butt"/>
<line x1="198.0" y1="635.4" x2="240.0" y2="635.4" stroke="#000" stroke-width="2.3" stroke-linecap="butt"/>
<line x1="192.0" y1="639.6" x2="196.0" y2="631.2" stroke="#000" stroke-width="1.9" stroke-linecap="butt"/>
<line x1="196.0" y1="639.6" x2="200.0" y2="631.2" stroke="#000" stroke-width="1.9" stroke-linecap="butt"/>
<text x="45.7" y="650.2" font-size="12.8" text-anchor="middle">0</text>
<line x1="55.7" y1="608.4" x2="62.4" y2="608.4" stroke="#000" stroke-width="1.9" stroke-linecap="butt"/>
<text x="47.4" y="612.8" font-size="12.8" text-anchor="end">40</text>
<line x1="55.7" y1="580.6" x2="62.4" y2="580.6" stroke="#000" stroke-width="1.9" stroke-linecap="butt"/>
<text x="47.4" y="585.0" font-size="12.8" text-anchor="end">80</text>
<line x1="55.7" y1="552.8" x2="62.4" y2="552.8" stroke="#000" stroke-width="1.9" stroke-linecap="butt"/>
<text x="47.4" y="557.2" font-size="12.8" text-anchor="end">120</text>
<line x1="55.7" y1="525.0" x2="62.4" y2="525.0" stroke="#000" stroke-width="1.9" stroke-linecap="butt"/>
<text x="47.4" y="529.4" font-size="12.8" text-anchor="end">160</text>
<line x1="55.7" y1="497.2" x2="62.4" y2="497.2" stroke="#000" stroke-width="1.9" stroke-linecap="butt"/>
<text x="47.4" y="501.6" font-size="12.8" text-anchor="end">200</text>
<line x1="69.2" y1="635.4" x2="69.2" y2="631.4" stroke="#000" stroke-width="1.8" stroke-linecap="butt"/>
<text x="69.5" y="650.9" font-size="12.6" text-anchor="middle">1</text>
<line x1="85.9" y1="635.4" x2="85.9" y2="631.4" stroke="#000" stroke-width="1.8" stroke-linecap="butt"/>
<text x="85.8" y="650.9" font-size="12.6" text-anchor="middle">2</text>
<line x1="102.7" y1="635.4" x2="102.7" y2="631.4" stroke="#000" stroke-width="1.8" stroke-linecap="butt"/>
<text x="102.2" y="650.9" font-size="12.6" text-anchor="middle">3</text>
<line x1="119.4" y1="635.4" x2="119.4" y2="631.4" stroke="#000" stroke-width="1.8" stroke-linecap="butt"/>
<text x="117.8" y="650.9" font-size="12.6" text-anchor="middle">4</text>
<line x1="136.2" y1="635.4" x2="136.2" y2="631.4" stroke="#000" stroke-width="1.8" stroke-linecap="butt"/>
<text x="133.9" y="650.9" font-size="12.6" text-anchor="middle">5</text>
<line x1="152.9" y1="635.4" x2="152.9" y2="631.4" stroke="#000" stroke-width="1.8" stroke-linecap="butt"/>
<text x="151.6" y="650.9" font-size="12.6" text-anchor="middle">6</text>
<line x1="169.7" y1="635.4" x2="169.7" y2="631.4" stroke="#000" stroke-width="1.8" stroke-linecap="butt"/>
<text x="170.0" y="650.9" font-size="12.6" text-anchor="middle">7</text>
<line x1="186.4" y1="635.4" x2="186.4" y2="631.4" stroke="#000" stroke-width="1.8" stroke-linecap="butt"/>
<text x="185.3" y="650.9" font-size="12.6" text-anchor="middle">8</text>
<line x1="204.2" y1="635.4" x2="204.2" y2="631.4" stroke="#000" stroke-width="1.8" stroke-linecap="butt"/>
<text x="203.0" y="650.9" font-size="12.6" text-anchor="middle">12</text>
<line x1="225.5" y1="635.4" x2="225.5" y2="631.4" stroke="#000" stroke-width="1.8" stroke-linecap="butt"/>
<text x="224.2" y="650.9" font-size="12.6" text-anchor="middle">24</text>
<text x="17.8" y="576.4" font-size="18.4" text-anchor="middle" transform="rotate(-90 17.8 576.4)">ng/ml</text>
<text x="119.6" y="669.5" font-size="18.5" text-anchor="middle">Time (h)</text>
<polyline points="59.6,627.3 85.9,620.5 119.2,596.3 153.0,542.5 225.8,611.7" fill="none" stroke="#000" stroke-width="2" stroke-linejoin="round"/>
<polyline points="59.6,631.0 85.9,628.7 119.1,617.6 152.4,621.0 225.8,631.5" fill="none" stroke="#000" stroke-width="2" stroke-linejoin="round"/>
<polyline points="59.6,631.5 85.9,629.3 119.1,632.0 152.4,626.3 225.8,632.0" fill="none" stroke="#000" stroke-width="2" stroke-linejoin="round"/>
<line x1="119.2" y1="578.5" x2="119.2" y2="614.0" stroke="#000" stroke-width="1.8" stroke-linecap="butt"/>
<line x1="116.3" y1="578.5" x2="122.1" y2="578.5" stroke="#000" stroke-width="1.8" stroke-linecap="butt"/>
<line x1="116.3" y1="614.0" x2="122.1" y2="614.0" stroke="#000" stroke-width="1.8" stroke-linecap="butt"/>
<line x1="153.0" y1="510.8" x2="153.0" y2="573.8" stroke="#000" stroke-width="1.8" stroke-linecap="butt"/>
<line x1="150.1" y1="510.8" x2="155.9" y2="510.8" stroke="#000" stroke-width="1.8" stroke-linecap="butt"/>
<line x1="150.1" y1="573.8" x2="155.9" y2="573.8" stroke="#000" stroke-width="1.8" stroke-linecap="butt"/>
<line x1="225.8" y1="600.2" x2="225.8" y2="624.6" stroke="#000" stroke-width="1.8" stroke-linecap="butt"/>
<line x1="222.9" y1="600.2" x2="228.7" y2="600.2" stroke="#000" stroke-width="1.8" stroke-linecap="butt"/>
<line x1="222.9" y1="624.6" x2="228.7" y2="624.6" stroke="#000" stroke-width="1.8" stroke-linecap="butt"/>
<line x1="119.1" y1="611.0" x2="119.1" y2="625.0" stroke="#000" stroke-width="1.8" stroke-linecap="butt"/>
<line x1="116.2" y1="611.0" x2="122.0" y2="611.0" stroke="#000" stroke-width="1.8" stroke-linecap="butt"/>
<line x1="116.2" y1="625.0" x2="122.0" y2="625.0" stroke="#000" stroke-width="1.8" stroke-linecap="butt"/>
<line x1="152.4" y1="616.2" x2="152.4" y2="627.0" stroke="#000" stroke-width="1.8" stroke-linecap="butt"/>
<line x1="149.5" y1="616.2" x2="155.3" y2="616.2" stroke="#000" stroke-width="1.8" stroke-linecap="butt"/>
<line x1="149.5" y1="627.0" x2="155.3" y2="627.0" stroke="#000" stroke-width="1.8" stroke-linecap="butt"/>
<rect x="55.6" y="627.0" width="8.0" height="8.0" fill="#fff" stroke="#000" stroke-width="1.5"/>
<rect x="81.9" y="624.7" width="8.0" height="8.0" fill="#fff" stroke="#000" stroke-width="1.5"/>
<rect x="115.1" y="613.6" width="8.0" height="8.0" fill="#fff" stroke="#000" stroke-width="1.5"/>
<rect x="148.4" y="617.0" width="8.0" height="8.0" fill="#fff" stroke="#000" stroke-width="1.5"/>
<rect x="221.8" y="627.5" width="8.0" height="8.0" fill="#fff" stroke="#000" stroke-width="1.5"/>
<circle cx="59.6" cy="627.3" r="4.5" fill="#000"/>
<circle cx="85.9" cy="620.5" r="4.5" fill="#000"/>
<circle cx="119.2" cy="596.3" r="4.5" fill="#000"/>
<circle cx="153.0" cy="542.5" r="4.5" fill="#000"/>
<circle cx="225.8" cy="611.7" r="4.5" fill="#000"/>
<polygon points="59.6,625.9 54.6,635.8 64.7,635.8" fill="#000"/>
<polygon points="85.9,623.7 80.9,633.6 91.0,633.6" fill="#000"/>
<polygon points="119.1,626.4 114.0,636.3 124.1,636.3" fill="#000"/>
<polygon points="152.4,620.7 147.3,630.6 157.5,630.6" fill="#000"/>
<polygon points="225.8,626.4 220.8,636.3 230.9,636.3" fill="#000"/>
<rect x="55.5" y="627" width="8.8" height="9" fill="#000"/>
</g>
<g id="panel-F">
<text transform="translate(280.0 475.8) scale(1.0 1)" font-size="23.3" text-anchor="start">F</text>
<text transform="translate(318.0 479.0) scale(1.01 1)" font-size="21.8" text-anchor="start">IL-8</text>
<line x1="331.3" y1="494.7" x2="331.3" y2="640.8" stroke="#000" stroke-width="2.3" stroke-linecap="butt"/>
<line x1="330.2" y1="639.7" x2="479.6" y2="640.5" stroke="#000" stroke-width="2.3" stroke-linecap="butt"/>
<line x1="483.6" y1="640.5" x2="510.5" y2="640.7" stroke="#000" stroke-width="2.3" stroke-linecap="butt"/>
<line x1="477.6" y1="644.7" x2="481.6" y2="636.3" stroke="#000" stroke-width="1.9" stroke-linecap="butt"/>
<line x1="481.6" y1="644.7" x2="485.6" y2="636.3" stroke="#000" stroke-width="1.9" stroke-linecap="butt"/>
<text x="322.8" y="650.0" font-size="12.8" text-anchor="middle">0</text>
<line x1="331.3" y1="621.5" x2="337.3" y2="621.5" stroke="#000" stroke-width="1.9" stroke-linecap="butt"/>
<text x="325.3" y="626.7" font-size="12.8" text-anchor="end">2</text>
<line x1="331.3" y1="603.5" x2="337.3" y2="603.5" stroke="#000" stroke-width="1.9" stroke-linecap="butt"/>
<text x="325.3" y="608.8" font-size="12.8" text-anchor="end">4</text>
<line x1="331.3" y1="585.6" x2="337.3" y2="585.6" stroke="#000" stroke-width="1.9" stroke-linecap="butt"/>
<text x="325.3" y="590.8" font-size="12.8" text-anchor="end">6</text>
<line x1="331.3" y1="567.6" x2="337.3" y2="567.6" stroke="#000" stroke-width="1.9" stroke-linecap="butt"/>
<text x="325.3" y="572.8" font-size="12.8" text-anchor="end">8</text>
<line x1="331.3" y1="549.6" x2="337.3" y2="549.6" stroke="#000" stroke-width="1.9" stroke-linecap="butt"/>
<text x="325.3" y="554.8" font-size="12.8" text-anchor="end">10</text>
<line x1="331.3" y1="531.6" x2="337.3" y2="531.6" stroke="#000" stroke-width="1.9" stroke-linecap="butt"/>
<text x="325.3" y="536.9" font-size="12.8" text-anchor="end">12</text>
<line x1="331.3" y1="513.7" x2="337.3" y2="513.7" stroke="#000" stroke-width="1.9" stroke-linecap="butt"/>
<text x="325.3" y="518.9" font-size="12.8" text-anchor="end">14</text>
<line x1="331.3" y1="495.7" x2="337.3" y2="495.7" stroke="#000" stroke-width="1.9" stroke-linecap="butt"/>
<text x="325.3" y="500.9" font-size="12.8" text-anchor="end">16</text>
<line x1="344.6" y1="639.8" x2="344.6" y2="642.0" stroke="#000" stroke-width="1.8" stroke-linecap="butt"/>
<text x="344.6" y="656.6" font-size="12.6" text-anchor="middle">1</text>
<line x1="361.6" y1="639.9" x2="361.6" y2="642.1" stroke="#000" stroke-width="1.8" stroke-linecap="butt"/>
<text x="361.2" y="656.6" font-size="12.6" text-anchor="middle">2</text>
<line x1="378.5" y1="640.0" x2="378.5" y2="642.2" stroke="#000" stroke-width="1.8" stroke-linecap="butt"/>
<text x="377.5" y="656.6" font-size="12.6" text-anchor="middle">3</text>
<line x1="395.4" y1="640.1" x2="395.4" y2="642.3" stroke="#000" stroke-width="1.8" stroke-linecap="butt"/>
<text x="393.8" y="656.6" font-size="12.6" text-anchor="middle">4</text>
<line x1="412.4" y1="640.2" x2="412.4" y2="642.4" stroke="#000" stroke-width="1.8" stroke-linecap="butt"/>
<text x="409.8" y="656.6" font-size="12.6" text-anchor="middle">5</text>
<line x1="429.3" y1="640.2" x2="429.3" y2="642.4" stroke="#000" stroke-width="1.8" stroke-linecap="butt"/>
<text x="427.4" y="656.6" font-size="12.6" text-anchor="middle">6</text>
<line x1="446.2" y1="640.3" x2="446.2" y2="642.5" stroke="#000" stroke-width="1.8" stroke-linecap="butt"/>
<text x="445.0" y="656.6" font-size="12.6" text-anchor="middle">7</text>
<line x1="463.1" y1="640.4" x2="463.1" y2="642.6" stroke="#000" stroke-width="1.8" stroke-linecap="butt"/>
<text x="462.3" y="656.6" font-size="12.6" text-anchor="middle">8</text>
<line x1="490.0" y1="640.6" x2="490.0" y2="642.8" stroke="#000" stroke-width="1.8" stroke-linecap="butt"/>
<text x="489.0" y="656.6" font-size="12.6" text-anchor="middle">12</text>
<line x1="507.6" y1="640.7" x2="507.6" y2="642.9" stroke="#000" stroke-width="1.8" stroke-linecap="butt"/>
<text x="507.4" y="656.6" font-size="12.6" text-anchor="middle">24</text>
<text x="296.0" y="576.6" font-size="18.4" text-anchor="middle" transform="rotate(-90 296.0 576.6)">ng/ml</text>
<text x="407.0" y="677.0" font-size="18.5" text-anchor="middle">Time (h)</text>
<polyline points="334.5,636.7 363.4,584.2 397.7,528.5 426.4,539.3 508.0,624.5" fill="none" stroke="#000" stroke-width="2" stroke-linejoin="round"/>
<polyline points="334.5,636.7 363.4,607.4 396.0,625.5 426.3,613.3 507.8,636.3" fill="none" stroke="#000" stroke-width="2" stroke-linejoin="round"/>
<polyline points="334.5,636.7 363.6,622.6 396.4,599.2 426.3,612.6 507.8,635.8" fill="none" stroke="#000" stroke-width="2" stroke-linejoin="round"/>
<line x1="363.4" y1="570.7" x2="363.4" y2="598.0" stroke="#000" stroke-width="1.8" stroke-linecap="butt"/>
<line x1="360.5" y1="570.7" x2="366.3" y2="570.7" stroke="#000" stroke-width="1.8" stroke-linecap="butt"/>
<line x1="360.5" y1="598.0" x2="366.3" y2="598.0" stroke="#000" stroke-width="1.8" stroke-linecap="butt"/>
<line x1="397.7" y1="498.7" x2="397.7" y2="557.1" stroke="#000" stroke-width="1.8" stroke-linecap="butt"/>
<line x1="394.8" y1="498.7" x2="400.6" y2="498.7" stroke="#000" stroke-width="1.8" stroke-linecap="butt"/>
<line x1="394.8" y1="557.1" x2="400.6" y2="557.1" stroke="#000" stroke-width="1.8" stroke-linecap="butt"/>
<line x1="426.4" y1="505.8" x2="426.4" y2="569.3" stroke="#000" stroke-width="1.8" stroke-linecap="butt"/>
<line x1="423.5" y1="505.8" x2="429.3" y2="505.8" stroke="#000" stroke-width="1.8" stroke-linecap="butt"/>
<line x1="423.5" y1="569.3" x2="429.3" y2="569.3" stroke="#000" stroke-width="1.8" stroke-linecap="butt"/>
<line x1="363.4" y1="598.8" x2="363.4" y2="613.2" stroke="#000" stroke-width="1.8" stroke-linecap="butt"/>
<line x1="360.5" y1="598.8" x2="366.3" y2="598.8" stroke="#000" stroke-width="1.8" stroke-linecap="butt"/>
<line x1="360.5" y1="613.2" x2="366.3" y2="613.2" stroke="#000" stroke-width="1.8" stroke-linecap="butt"/>
<line x1="426.3" y1="606.5" x2="426.3" y2="619.5" stroke="#000" stroke-width="1.8" stroke-linecap="butt"/>
<line x1="423.4" y1="606.5" x2="429.2" y2="606.5" stroke="#000" stroke-width="1.8" stroke-linecap="butt"/>
<line x1="423.4" y1="619.5" x2="429.2" y2="619.5" stroke="#000" stroke-width="1.8" stroke-linecap="butt"/>
<rect x="330.5" y="632.7" width="8.0" height="8.0" fill="#fff" stroke="#000" stroke-width="1.5"/>
<rect x="359.6" y="618.6" width="8.0" height="8.0" fill="#fff" stroke="#000" stroke-width="1.5"/>
<rect x="392.4" y="595.2" width="8.0" height="8.0" fill="#fff" stroke="#000" stroke-width="1.5"/>
<rect x="422.3" y="608.6" width="8.0" height="8.0" fill="#fff" stroke="#000" stroke-width="1.5"/>
<rect x="503.8" y="631.8" width="8.0" height="8.0" fill="#fff" stroke="#000" stroke-width="1.5"/>
<circle cx="334.5" cy="636.7" r="4.3" fill="#000"/>
<circle cx="363.4" cy="584.2" r="4.3" fill="#000"/>
<circle cx="397.7" cy="528.5" r="4.3" fill="#000"/>
<circle cx="426.4" cy="539.3" r="4.3" fill="#000"/>
<circle cx="508.0" cy="624.5" r="4.3" fill="#000"/>
<polygon points="334.5,631.1 329.4,641.0 339.6,641.0" fill="#000"/>
<polygon points="363.4,601.8 358.3,611.7 368.4,611.7" fill="#000"/>
<polygon points="396.0,619.9 390.9,629.8 401.1,629.8" fill="#000"/>
<polygon points="426.3,607.7 421.2,617.6 431.4,617.6" fill="#000"/>
<polygon points="507.8,630.7 502.8,640.6 512.9,640.6" fill="#000"/>
</g>
</svg>
</body></html>
